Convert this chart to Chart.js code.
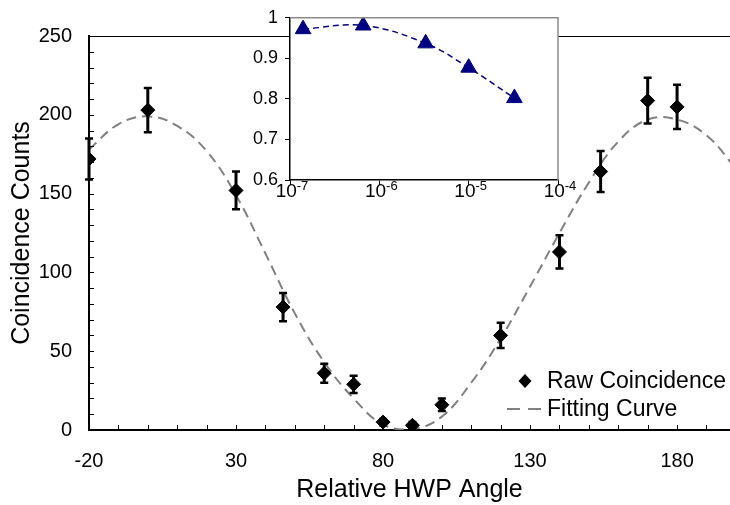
<!DOCTYPE html>
<html>
<head>
<meta charset="utf-8">
<script src="https://cdn.jsdelivr.net/npm/chart.js@4/dist/chart.umd.min.js"></script>
<style>
  html, body { margin: 0; padding: 0; background: #fff; overflow: hidden; }
  #wrap { position: relative; width: 730px; height: 505px; }
  #main { position: absolute; left: 0; top: 0; }
  #inset { position: absolute; left: 230px; top: 0; }
</style>
</head>
<body>
<div id="wrap">
  <canvas id="main" width="730" height="505"></canvas>
  <canvas id="inset" width="350" height="215"></canvas>
</div>
<script>
// ---- main plot data ----
const angles = [-20, 0, 30, 46, 60, 70, 80, 90, 100, 120, 140, 154, 170, 180];
const counts = [172, 203, 152, 78, 36, 29, 5, 3, 16, 60, 113, 164, 209, 205];
const countErrors = [13, 14, 12, 9, 6, 5.5, 2, 2, 4, 8, 10.5, 13, 14.5, 14];

const fitAngles = [-20, -10, 0, 10, 20, 30, 40, 50, 60, 70, 80, 90, 100, 110, 120, 130, 140, 150, 160, 170, 180, 190, 200];
const fitCounts = [178, 194, 199, 193, 177, 149, 112, 74, 43, 20, 3.5, 0.5, 8.5, 30, 58, 91, 125, 157, 183, 197, 197, 187, 166];

const xTickValues = [-20, 30, 80, 130, 180];
const yTickValues = [0, 50, 100, 150, 200, 250];

// ---- inset data ----
const insetRates = [1.4e-7, 6.6e-7, 3.3e-6, 1.0e-5, 3.25e-5];
const insetValues = [0.972, 0.981, 0.937, 0.877, 0.802];
const insetXTicks = [1e-7, 1e-6, 1e-5, 1e-4];
const insetYTicks = [0.6, 0.7, 0.8, 0.9, 1];

const FONT = '"Liberation Sans", Arial, sans-serif';
Chart.defaults.font.family = FONT;
Chart.defaults.color = '#000';

// inward minor ticks, top frame line, error bars, legend
const mainDecor = {
  id: 'mainDecor',
  afterDatasetsDraw(chart) {
    const { ctx, chartArea: a, scales: { x, y } } = chart;
    ctx.save();
    ctx.strokeStyle = '#000';
    ctx.lineWidth = 1;
    ctx.beginPath();
    ctx.moveTo(a.left, a.top + 0.5);
    ctx.lineTo(a.right, a.top + 0.5);
    for (let v = x.min; v <= x.max; v += 10) {
      const px = Math.round(x.getPixelForValue(v)) + 0.5;
      ctx.moveTo(px, a.bottom);
      ctx.lineTo(px, a.bottom - 5);
    }
    for (let v = y.min; v <= y.max; v += 10) {
      const py = Math.round(y.getPixelForValue(v)) + 0.5;
      ctx.moveTo(a.left, py);
      ctx.lineTo(a.left + 5, py);
    }
    ctx.stroke();

    // error bars
    angles.forEach((ang, i) => {
      const px = x.getPixelForValue(ang);
      const top = y.getPixelForValue(counts[i] + countErrors[i]);
      const bot = y.getPixelForValue(counts[i] - countErrors[i]);
      ctx.lineWidth = 3;
      ctx.beginPath();
      ctx.moveTo(px, top);
      ctx.lineTo(px, bot);
      ctx.stroke();
      ctx.lineWidth = 2.5;
      ctx.beginPath();
      ctx.moveTo(px - 4, top);
      ctx.lineTo(px + 4, top);
      ctx.moveTo(px - 4, bot);
      ctx.lineTo(px + 4, bot);
      ctx.stroke();
    });
    ctx.restore();
  },
  afterDraw(chart) {
    const { ctx } = chart;
    const ds = chart.data.datasets;
    ctx.save();
    ctx.font = '23px ' + FONT;
    ctx.fillStyle = '#000';
    ctx.textBaseline = 'middle';
    ctx.textAlign = 'left';

    ctx.beginPath();
    ctx.moveTo(525, 374);
    ctx.lineTo(531.5, 381);
    ctx.lineTo(525, 388);
    ctx.lineTo(518.5, 381);
    ctx.closePath();
    ctx.fill();
    ctx.fillText(ds[0].label, 547, 382);

    ctx.strokeStyle = '#808080';
    ctx.lineWidth = 2;
    ctx.setLineDash([13, 8]);
    ctx.beginPath();
    ctx.moveTo(507, 409);
    ctx.lineTo(541, 409);
    ctx.stroke();
    ctx.setLineDash([]);
    ctx.fillText(ds[1].label, 547, 410);
    ctx.restore();
  }
};

new Chart(document.getElementById('main'), {
  type: 'scatter',
  data: {
    datasets: [
      {
        label: 'Raw Coincidence',
        data: angles.map((a, i) => ({ x: a, y: counts[i] })),
        pointStyle: 'rectRot',
        pointRadius: 7,
        pointBackgroundColor: '#000',
        pointBorderColor: '#000',
        pointBorderWidth: 1,
        showLine: false,
      },
      {
        label: 'Fitting Curve',
        data: fitAngles.map((a, i) => ({ x: a, y: fitCounts[i] })),
        showLine: true,
        borderColor: '#808080',
        borderWidth: 2,
        borderDash: [10, 6],
        pointRadius: 0,
        tension: 0.4,
      },
    ],
  },
  options: {
    responsive: false,
    animation: false,
    devicePixelRatio: 1,
    layout: { autoPadding: false, padding: { top: 36, right: 0, left: 0, bottom: 0 } },
    plugins: { legend: { display: false }, tooltip: { enabled: false } },
    scales: {
      x: {
        type: 'linear',
        min: -20,
        max: 198,
        afterBuildTicks: s => { s.ticks = xTickValues.map(v => ({ value: v })); },
        afterFit: s => { s.height = 75; },
        grid: { display: false, drawTicks: false },
        border: { color: '#000', width: 2 },
        ticks: { color: '#000', font: { size: 20 }, padding: 19, maxRotation: 0, autoSkip: false },
        title: { display: true, text: 'Relative HWP Angle', color: '#000', font: { size: 25 }, padding: { top: 0, bottom: 0 } },
      },
      y: {
        min: 0,
        max: 250,
        afterBuildTicks: s => { s.ticks = yTickValues.map(v => ({ value: v })); },
        afterFit: s => { s.width = 89; },
        grid: { display: false, drawTicks: false },
        border: { color: '#000', width: 2 },
        ticks: { color: '#000', font: { size: 20 }, padding: 17 },
        title: { display: true, text: 'Coincidence Counts', color: '#000', font: { size: 25 }, padding: { top: 7, bottom: 0 } },
      },
    },
  },
  plugins: [mainDecor],
});

// ---- inset ----
const insetDecor = {
  id: 'insetDecor',
  beforeDraw(chart) {
    const { ctx, chartArea: a } = chart;
    ctx.save();
    ctx.fillStyle = '#fff';
    ctx.fillRect(a.left, a.top, a.right - a.left, a.bottom - a.top);
    ctx.restore();
  },
  afterDraw(chart) {
    const { ctx, chartArea: a, scales: { x } } = chart;
    ctx.save();
    ctx.strokeStyle = '#8c8c8c';
    ctx.lineWidth = 1.5;
    ctx.beginPath();
    ctx.moveTo(a.left, a.top);
    ctx.lineTo(a.right, a.top);
    ctx.lineTo(a.right, a.bottom);
    ctx.stroke();

    // 10^n labels with raised exponent
    ctx.fillStyle = '#000';
    ctx.textBaseline = 'alphabetic';
    ctx.textAlign = 'left';
    insetXTicks.forEach(v => {
      const base = '10';
      const exp = String(Math.round(Math.log10(v)));
      ctx.font = '19px ' + FONT;
      const wb = ctx.measureText(base).width;
      ctx.font = '13px ' + FONT;
      const we = ctx.measureText(exp).width;
      const px = x.getPixelForValue(v);
      const left = px - (wb + we) / 2 + 2;
      ctx.font = '19px ' + FONT;
      ctx.fillText(base, left, a.bottom + 17);
      ctx.font = '13px ' + FONT;
      ctx.fillText(exp, left + wb, a.bottom + 10);
    });
    ctx.restore();
  }
};

new Chart(document.getElementById('inset'), {
  type: 'scatter',
  data: {
    datasets: [{
      data: insetRates.map((r, i) => ({ x: r, y: insetValues[i] })),
      showLine: true,
      borderColor: '#000080',
      borderWidth: 1.5,
      borderDash: [6, 4],
      tension: 0.4,
      pointStyle: 'triangle',
      pointRadius: 9,
      pointBackgroundColor: '#000080',
      pointBorderColor: '#000080',
      pointBorderWidth: 1,
    }],
  },
  options: {
    responsive: false,
    animation: false,
    devicePixelRatio: 1,
    layout: { autoPadding: false, padding: { top: 12, right: 22, left: 0, bottom: 0 } },
    plugins: { legend: { display: false }, tooltip: { enabled: false } },
    scales: {
      x: {
        type: 'logarithmic',
        min: 1e-7,
        max: 1e-4,
        afterBuildTicks: s => { s.ticks = insetXTicks.map(v => ({ value: v })); },
        afterFit: s => { s.height = 35; },
        grid: { drawOnChartArea: false, drawTicks: true, tickLength: 5, color: '#000' },
        border: { color: '#000', width: 1.5 },
        ticks: { callback: () => '', maxRotation: 0, autoSkip: false },
      },
      y: {
        min: 0.6,
        max: 1,
        afterBuildTicks: s => { s.ticks = insetYTicks.map(v => ({ value: v })); },
        afterFit: s => { s.width = 60; },
        grid: { drawOnChartArea: false, drawTicks: true, tickLength: 5, color: '#000' },
        border: { color: '#000', width: 1.5 },
        ticks: { color: '#000', font: { size: 18 }, padding: 7, callback: v => String(Number(v.toFixed(1))) },
      },
    },
  },
  plugins: [insetDecor],
});
</script>
</body>
</html>
